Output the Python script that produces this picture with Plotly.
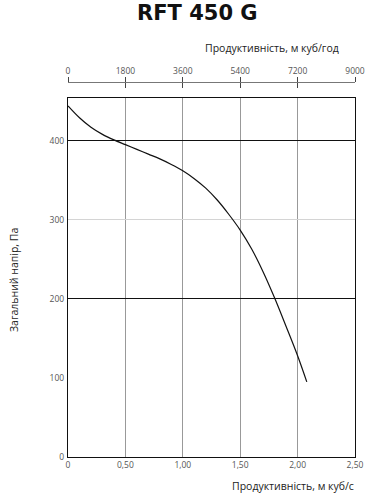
import plotly.graph_objects as go

# Data
flow_m3s = [0, 0.1, 0.2, 0.3, 0.4, 0.5, 0.6, 0.7, 0.8, 0.9, 1.0, 1.1, 1.2, 1.3, 1.4, 1.5,
            1.6, 1.7, 1.8, 1.9, 2.0, 2.08]
pressure_pa = [444, 429, 417, 408, 401, 395, 389, 383, 377, 370, 362, 352, 340, 325, 307, 287,
               263, 234, 201, 165, 128, 95]

x_ticks = [0, 0.5, 1.0, 1.5, 2.0, 2.5]
x_labels = ["0", "0,50", "1,00", "1,50", "2,00", "2,50"]
top_ticks = [0, 1800, 3600, 5400, 7200, 9000]
y_ticks = [0, 100, 200, 300, 400]
y_major = [200, 400]
y_minor = [300]

title = "RFT 450 G"
x_title = "Продуктивність, м куб/с"
top_title = "Продуктивність, м куб/год"
y_title = "Загальний напір, Па"

W, H = 365, 500
ml, mr, mt, mb = 68, 10, 82, 43
plot_h = H - mt - mb
y_top_frac = (H - mb - 98) / plot_h
y_range = [0, 454]

tick_font = dict(family="Open Sans", size=8.5, color="#555")

fig = go.Figure()
fig.add_trace(go.Scatter(x=flow_m3s, y=pressure_pa, mode="lines",
                         line=dict(color="#111", width=1.2, shape="spline", smoothing=1.0),
                         hoverinfo="skip", showlegend=False))

fig.update_layout(
    width=W, height=H, margin=dict(l=ml, r=mr, t=mt, b=mb, autoexpand=False),
    paper_bgcolor="white", plot_bgcolor="white", showlegend=False,
    xaxis=dict(range=[0, 2.5], tickvals=x_ticks, ticktext=x_labels, showgrid=True,
               gridcolor="#999", gridwidth=1, zeroline=False, showline=True,
               linecolor="#111", linewidth=1.3, mirror=True, ticks="", tickfont=tick_font,
               domain=[0, 1], automargin=False),
    yaxis=dict(range=y_range, tickvals=y_ticks, showgrid=False, zeroline=False,
               showline=True, linecolor="#111", linewidth=1.3, mirror=True, ticks="",
               tickfont=tick_font, domain=[0, y_top_frac], ticklabelstandoff=1,
               automargin=False),
    yaxis2=dict(range=y_range, overlaying="y", tickvals=y_major, showticklabels=False,
                showgrid=True, gridcolor="#111", gridwidth=1.2, zeroline=False,
                showline=False, ticks=""),
    yaxis3=dict(range=y_range, overlaying="y", tickvals=y_minor, showticklabels=False,
                showgrid=True, gridcolor="#d4d4d4", gridwidth=1, zeroline=False,
                showline=False, ticks=""),
    xaxis2=dict(range=[0, 9000], tickvals=top_ticks, side="top", anchor="free",
                overlaying="x", position=1.0, showgrid=False, zeroline=False,
                showline=True, linecolor="#777", linewidth=1.2, ticks="outside",
                ticklen=5, tickcolor="#444", tickwidth=1, tickfont=tick_font,
                automargin=False),
    xaxis3=dict(range=[0, 9000], tickvals=top_ticks, side="top", anchor="free",
                overlaying="x", position=1.0, showgrid=False, zeroline=False,
                showline=False, ticks="inside", ticklen=5, tickcolor="#444",
                tickwidth=1, showticklabels=False, automargin=False),
)

# invisible traces to activate overlay axes
for xa, ya in [("x", "y2"), ("x", "y3"), ("x2", "y"), ("x3", "y")]:
    fig.add_trace(go.Scatter(x=[None], y=[None], xaxis=xa, yaxis=ya,
                             showlegend=False, hoverinfo="skip"))

fig.add_annotation(text="<b>" + title + "</b>", xref="paper", yref="paper",
                   x=(197 - ml) / (W - ml - mr), y=1 + (mt - 13) / plot_h,
                   xanchor="center", yanchor="middle", showarrow=False,
                   font=dict(family="DejaVu Sans", size=21, color="#111"))
fig.add_annotation(text=top_title, xref="paper", yref="paper",
                   x=(341 - ml) / (W - ml - mr), y=1 + (mt - 48) / plot_h,
                   xanchor="right", yanchor="middle", showarrow=False,
                   font=dict(family="Open Sans", size=10.5, color="#222"))
fig.add_annotation(text=x_title, xref="paper", yref="paper",
                   x=(356 - ml) / (W - ml - mr), y=-(486 - (H - mb)) / plot_h,
                   xanchor="right", yanchor="middle", showarrow=False,
                   font=dict(family="Open Sans", size=10.5, color="#222"))
fig.add_annotation(text=y_title, xref="paper", yref="paper",
                   x=-(ml - 14) / (W - ml - mr), y=(H - mb - 280) / plot_h,
                   xanchor="center", yanchor="middle", textangle=-90, showarrow=False,
                   font=dict(family="Open Sans", size=10.5, color="#222"))

fig.write_html("out.html")
